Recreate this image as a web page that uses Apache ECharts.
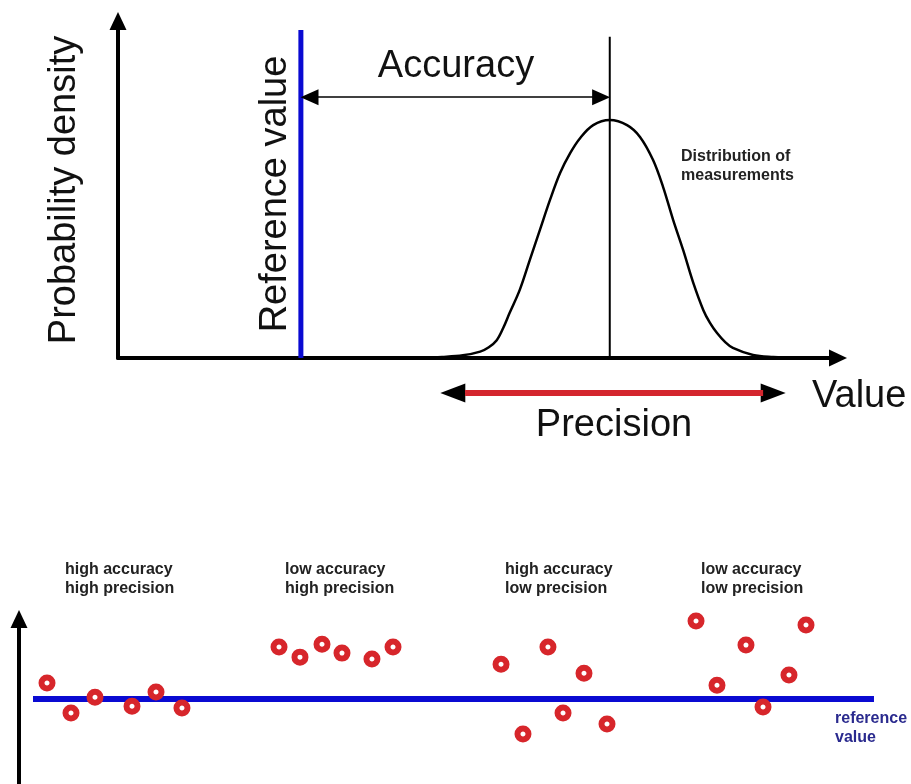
<!DOCTYPE html>
<html><head><meta charset="utf-8">
<script src="https://cdn.jsdelivr.net/npm/echarts@6/dist/echarts.min.js"></script>
<style>html,body{margin:0;padding:0;background:#fff}#c{width:911px;height:784px}</style>
</head><body><div id="c"></div>
<script>
// ---- Top panel: distribution of measurements (x: value units 0..10, y: density 0..1)
const curveX = [4.20, 4.50, 4.79, 5.03, 5.15, 5.26, 5.35, 5.44, 5.58, 5.72, 5.86, 6.00, 6.14, 6.28, 6.42, 6.60, 6.83,
                7.07, 7.25, 7.43, 7.57, 7.71, 7.85, 7.99, 8.13, 8.22, 8.32, 8.43, 8.54, 8.82, 9.10, 9.45];
const curveY = [0.000, 0.003, 0.008, 0.019, 0.032, 0.053, 0.089, 0.134, 0.202, 0.291, 0.380, 0.469, 0.549, 0.608, 0.653, 0.691, 0.706,
                0.691, 0.656, 0.588, 0.508, 0.410, 0.320, 0.223, 0.142, 0.105, 0.074, 0.048, 0.030, 0.009, 0.003, 0.000];
const referenceValue = 2.54;
const referenceTop = 0.973;
const measuredMean = 6.83;
const meanTop = 0.953;
const accuracyArrow = { y: 0.774, from: 2.66, to: 6.71 };
const precisionArrow = { from: 4.65, to: 9.10 };
const precisionBar = { from: 4.82, to: 8.96 };

// ---- Bottom panel: four sets of measurements (x: 0..100 position, y: deviation from reference)
const highAccHighPrecX = [3.14, 5.83, 8.52, 12.67, 15.36, 18.27];
const highAccHighPrecY = [1.00, -0.87, 0.12, -0.44, 0.44, -0.56];
const lowAccHighPrecX = [29.15, 31.50, 33.97, 36.21, 39.57, 41.93];
const lowAccHighPrecY = [3.25, 2.62, 3.43, 2.87, 2.50, 3.25];
const highAccLowPrecX = [54.04, 59.30, 63.34, 60.99, 56.50, 65.92];
const highAccLowPrecY = [2.18, 3.25, 1.62, -0.87, -2.18, -1.56];
const lowAccLowPrecX = [75.90, 81.50, 88.23, 78.25, 86.32, 83.41];
const lowAccLowPrecY = [4.87, 3.37, 4.62, 0.87, 1.50, -0.50];
const referenceLevel = 0;
const referenceSpan = [1.57, 95.85];

const groupLabels = [
  ['high accuracy', 'high precision'],
  ['low accuracy', 'high precision'],
  ['high accuracy', 'low precision'],
  ['low accuracy', 'low precision']
];

const FONT = '"Liberation Sans", Arial, sans-serif';
const RED = '#d7262b';
const BLUE = '#0a0ad2';

function zip(xs, ys) { return xs.map((x, i) => [x, ys[i]]); }

const chart = echarts.init(document.getElementById('c'), null, { renderer: 'canvas' });

const markerStyle = {
  symbol: 'circle', symbolSize: 11,
  itemStyle: { color: '#ffffff', borderColor: RED, borderWidth: 6, opacity: 1 }
};

function scatter(name, xs, ys) {
  return Object.assign({
    name, type: 'scatter', xAxisIndex: 2, yAxisIndex: 2,
    data: zip(xs, ys), z: 5, silent: true
  }, markerStyle);
}

function txt(text, x, y, size, opts) {
  opts = opts || {};
  return {
    type: 'text', x, y, rotation: opts.rotation || 0, silent: true,
    style: {
      text, fill: opts.color || '#111', font: (opts.bold ? 'bold ' : '') + size + 'px ' + FONT,
      textAlign: opts.align || 'left', textVerticalAlign: 'middle'
    }
  };
}

const graphics = [
  txt('Probability density', 65, 190, 38, { rotation: Math.PI / 2, align: 'center' }),
  txt('Reference value', 276, 194, 38, { rotation: Math.PI / 2, align: 'center' }),
  txt('Accuracy', 456, 67, 38, { align: 'center' }),
  txt('Value', 812, 397, 38),
  txt('Precision', 614, 426, 38, { align: 'center' }),
  txt('Distribution of', 681, 157, 16, { bold: true, color: '#222' }),
  txt('measurements', 681, 176, 16, { bold: true, color: '#222' }),
  txt('reference', 835, 719, 16, { bold: true, color: '#2a2a8e' }),
  txt('value', 835, 738, 16, { bold: true, color: '#2a2a8e' })
];
const labelX = [65, 285, 505, 701];
groupLabels.forEach((lines, i) => {
  graphics.push(txt(lines[0], labelX[i], 570, 16, { bold: true, color: '#222' }));
  graphics.push(txt(lines[1], labelX[i], 589, 16, { bold: true, color: '#222' }));
});

const option = {
  animation: false,
  backgroundColor: '#ffffff',
  graphic: graphics,
  grid: [
    { left: 118, top: 21, width: 720, height: 337 },
    { left: 118, top: 383, width: 720, height: 20 },
    { left: 19, top: 619, width: 892, height: 165 }
  ],
  xAxis: [
    {
      gridIndex: 0, type: 'value', min: 0, max: 10,
      axisLine: { show: true, onZero: false, symbol: ['none', 'triangle'], symbolSize: [17, 18],
                  lineStyle: { color: '#000', width: 4 } },
      axisTick: { show: false }, axisLabel: { show: false }, splitLine: { show: false }
    },
    { gridIndex: 1, type: 'value', min: 0, max: 10, show: false },
    { gridIndex: 2, type: 'value', min: 0, max: 100, show: false }
  ],
  yAxis: [
    {
      gridIndex: 0, type: 'value', min: 0, max: 1,
      axisLine: { show: true, onZero: false, symbol: ['none', 'triangle'], symbolSize: [17, 18],
                  lineStyle: { color: '#000', width: 4 } },
      axisTick: { show: false }, axisLabel: { show: false }, splitLine: { show: false }
    },
    { gridIndex: 1, type: 'value', min: 0, max: 1, show: false },
    {
      gridIndex: 2, type: 'value', min: -5.3, max: 5,
      axisLine: { show: true, onZero: false, symbol: ['none', 'triangle'], symbolSize: [17, 18],
                  lineStyle: { color: '#000', width: 4 } },
      axisTick: { show: false }, axisLabel: { show: false }, splitLine: { show: false }
    }
  ],
  series: [
    {
      name: 'Distribution', type: 'line', xAxisIndex: 0, yAxisIndex: 0,
      data: zip(curveX, curveY), smooth: 0.35, showSymbol: false, symbol: 'none', silent: true,
      lineStyle: { color: '#000', width: 2.5 }, z: 3
    },
    {
      name: 'Reference value', type: 'line', xAxisIndex: 0, yAxisIndex: 0,
      data: [[referenceValue, 0], [referenceValue, referenceTop]], showSymbol: false, symbol: 'none', silent: true,
      lineStyle: { color: BLUE, width: 5 }, z: 4
    },
    {
      name: 'Mean', type: 'line', xAxisIndex: 0, yAxisIndex: 0,
      data: [[measuredMean, 0], [measuredMean, meanTop]], showSymbol: false, symbol: 'none', silent: true,
      lineStyle: { color: '#000', width: 2 }, z: 3,
      markLine: {
        silent: true, symbol: ['triangle', 'triangle'], symbolSize: [16, 18],
        label: { show: false }, lineStyle: { color: '#000', width: 1.5, type: 'solid' },
        data: [[{ coord: [accuracyArrow.from, accuracyArrow.y] }, { coord: [accuracyArrow.to, accuracyArrow.y] }]]
      }
    },
    {
      name: 'Precision', type: 'line', xAxisIndex: 1, yAxisIndex: 1,
      data: [[precisionBar.from, 0.5], [precisionBar.to, 0.5]], showSymbol: false, symbol: 'none', silent: true,
      lineStyle: { color: '#d4262e', width: 6 }, z: 10,
      markLine: {
        silent: true, symbol: ['triangle', 'triangle'], symbolSize: [19, 25],
        label: { show: false }, lineStyle: { color: '#000', width: 1, type: 'solid' },
        data: [[{ coord: [precisionArrow.from, 0.5] }, { coord: [precisionArrow.to, 0.5] }]]
      }
    },
    {
      name: 'Reference level', type: 'line', xAxisIndex: 2, yAxisIndex: 2,
      data: [[referenceSpan[0], referenceLevel], [referenceSpan[1], referenceLevel]],
      showSymbol: false, symbol: 'none', silent: true,
      lineStyle: { color: BLUE, width: 6 }, z: 3
    },
    scatter('high accuracy high precision', highAccHighPrecX, highAccHighPrecY),
    scatter('low accuracy high precision', lowAccHighPrecX, lowAccHighPrecY),
    scatter('high accuracy low precision', highAccLowPrecX, highAccLowPrecY),
    scatter('low accuracy low precision', lowAccLowPrecX, lowAccLowPrecY)
  ]
};
chart.setOption(option);
</script>
</body></html>
